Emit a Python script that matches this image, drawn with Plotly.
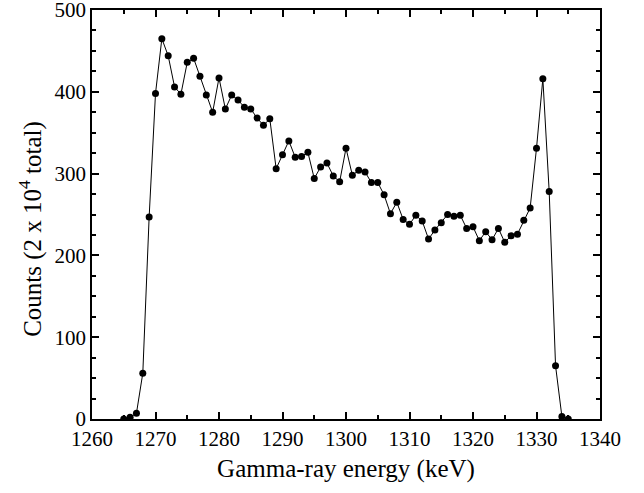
import plotly.graph_objects as go

energy_kev = list(range(1265, 1336))
counts = [0, 2, 7, 56, 247, 398, 465, 444, 406, 397,
          436, 441, 419, 396, 375, 417, 379, 396, 390, 381,
          379, 368, 359, 367, 306, 323, 340, 320, 321, 326,
          294, 308, 313, 297, 290, 331, 298, 304, 302, 289,
          289, 274, 251, 265, 244, 238, 249, 242, 220, 231,
          240, 250, 248, 249, 233, 235, 218, 229, 219, 233,
          216, 224, 226, 243, 258, 331, 416, 278, 65, 3,
          0]

font_family = "Liberation Serif"

fig = go.Figure()
fig.add_trace(go.Scatter(
    x=energy_kev, y=counts, mode="lines+markers",
    line=dict(color="black", width=1),
    marker=dict(color="black", size=7),
    showlegend=False,
))

axis_common = dict(
    showline=True, linecolor="black", linewidth=1.5, mirror="ticks",
    ticks="inside", tickcolor="black", tickwidth=1.5, ticklen=7,
    showgrid=False, zeroline=False, automargin=False,
    ticklabeloverflow="allow",
    tickfont=dict(family=font_family, size=21, color="black"),
)

fig.update_xaxes(
    range=[1260, 1340], tick0=1260, dtick=10,
    minor=dict(ticks="inside", dtick=5, ticklen=4, tickcolor="black", tickwidth=1.5),
    title=dict(text="Gamma-ray energy (keV)", font=dict(family=font_family, size=25, color="black"), standoff=10),
    **axis_common,
)
fig.update_yaxes(
    range=[0, 500], tick0=0, dtick=100,
    minor=dict(ticks="inside", dtick=25, ticklen=4, tickcolor="black", tickwidth=1.5),
    **axis_common,
)

fig.add_annotation(
    text="Counts (2 x 10<sup>4</sup> total)",
    xref="paper", yref="paper", x=-0.12, y=0.465,
    xanchor="center", yanchor="middle", textangle=-90, showarrow=False,
    font=dict(family=font_family, size=25, color="black"),
)

fig.update_layout(
    width=644, height=493,
    margin=dict(l=92, r=44, t=10, b=74),
    plot_bgcolor="white", paper_bgcolor="white",
    font=dict(family=font_family, color="black"),
)

fig.write_html("out.html")
